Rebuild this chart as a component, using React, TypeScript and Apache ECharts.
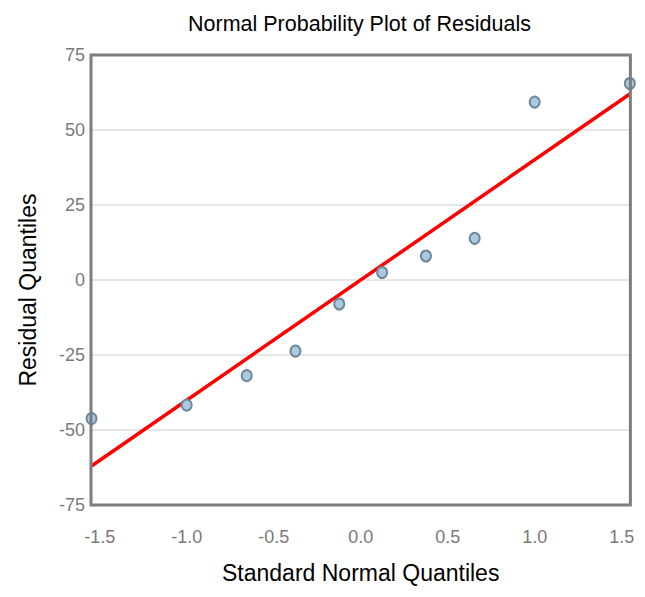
import React, { useEffect, useRef } from "react";
import * as echarts from "echarts";

const normalQuantiles = [-1.547, -1.0, -0.655, -0.375, -0.123, 0.123, 0.375, 0.655, 1.0, 1.547];
const residuals = [-46.2, -41.7, -31.9, -23.7, -8.0, 2.5, 8.0, 13.9, 59.3, 65.5];
const fitLineX = [-1.547, 1.547];
const fitLineY = [-62, 62];
const xTickValues = [-1.5, -1.0, -0.5, 0.0, 0.5, 1.0, 1.5];

export default function App() {
  const ref = useRef<HTMLDivElement>(null);
  useEffect(() => {
    const chart = echarts.init(ref.current!, null, { renderer: "svg" });
    const font = "Liberation Sans";
    chart.setOption({
      animation: false,
      backgroundColor: "#ffffff",
      title: {
        text: "Normal Probability Plot of Residuals",
        left: 175,
        top: 0,
        textStyle: { fontFamily: font, fontSize: 21.5, fontWeight: "normal", color: "#000" },
      },
      grid: {
        left: 71,
        right: 4,
        top: 47,
        bottom: 75,
        show: true,
        borderColor: "#7d7d7d",
        borderWidth: 3,
        backgroundColor: "transparent",
        z: 5,
      },
      xAxis: {
        type: "value",
        min: -1.55,
        max: 1.55,
        name: "Standard Normal Quantiles",
        nameLocation: "middle",
        nameGap: 56,
        nameTextStyle: { fontFamily: font, fontSize: 23, color: "#000" },
        axisLine: { show: false },
        axisTick: { show: false },
        splitLine: { show: false },
        axisLabel: {
          customValues: xTickValues,
          formatter: (v: number) => v.toFixed(1),
          fontFamily: font,
          fontSize: 18,
          color: "#7a7a7a",
          margin: 23,
        },
      },
      yAxis: {
        type: "value",
        min: -75,
        max: 75,
        interval: 25,
        name: "Residual Quantiles",
        nameLocation: "middle",
        nameGap: 52,
        nameTextStyle: { fontFamily: font, fontSize: 23, color: "#000", padding: [0, 20, 0, 0] },
        axisLine: { show: false },
        axisTick: { show: false },
        splitLine: {
          show: true,
          showMinLine: false,
          showMaxLine: false,
          lineStyle: { color: "#e6e6e6", width: 2 },
        },
        axisLabel: { fontFamily: font, fontSize: 18, color: "#7a7a7a", margin: 6 },
      },
      series: [
        {
          type: "line",
          data: fitLineX.map((x, i) => [x, fitLineY[i]]),
          symbol: "none",
          lineStyle: { color: "#ff0000", width: 3.5 },
          z: 2,
        },
        {
          type: "scatter",
          data: normalQuantiles.map((x, i) => [x, residuals[i]]),
          symbol: "circle",
          symbolSize: [10, 11],
          itemStyle: { color: "#a9cbe0", borderColor: "#6f8799", borderWidth: 2, opacity: 1 },
          z: 3,
          clip: false,
        },
      ],
    });
    return () => chart.dispose();
  }, []);
  return <div ref={ref} style={{ width: 629, height: 581 }} />;
}
